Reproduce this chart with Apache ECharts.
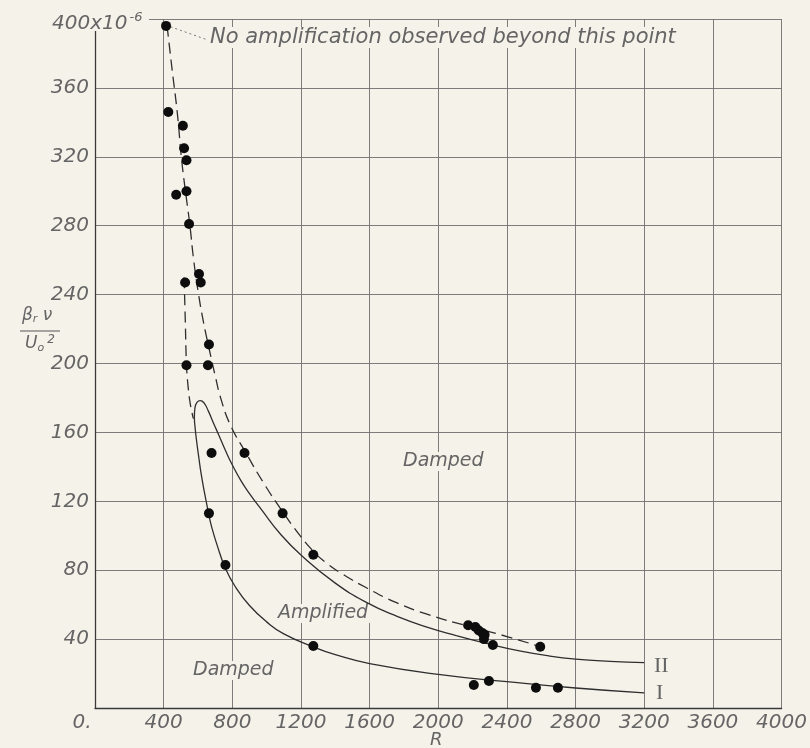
<!DOCTYPE html>
<html>
<head>
<meta charset="utf-8">
<script src="https://cdn.jsdelivr.net/npm/echarts@6/dist/echarts.min.js"></script>
<style>
html,body{margin:0;padding:0;background:#f5f2ea;}
#c{width:810px;height:748px;}
</style>
</head>
<body>
<div id="c"></div>
<script>
// ---- data ----
var xTicks = [0,400,800,1200,1600,2000,2400,2800,3200,3600,4000];
var yTicks = [0,40,80,120,160,200,240,280,320,360,400];

var observedPoints = [
  [414,396],[427,346],[512,338],[519,325],[533,318],[533,300],[473,298],
  [548,281],[606,252],[616,247],[525,247],[664,211],[533,199],[658,199],
  [679,148],[871,148],[664,113],[1093,113],[760,83],[1272,89],[1272,36],
  [2174,48],[2216,47],[2236,45],[2257,43.5],[2270,42.5],[2266,40],[2318,36.6],[2594,35.6],
  [2207,13.4],[2295,15.7],[2569,11.8],[2697,11.8]
];

// neutral curve: branch I (lower) from right end, around the nose, branch II (upper) to right end
var neutralCurve = [
  [3200,8.8],[2800,11.6],[2400,15.3],[2000,19.5],[1600,25.8],[1400,31],[1272,35.5],
  [1100,43],[1000,50],[900,59.5],[820,70],[760,81],[710,95],[680,105],[664,112],
  [640,124],[620,135],[604,146],[592,155],[583,163],[579,169],[582,174],[594,177.5],
  [614,178.5],[636,177],[660,172.5],[690,165.5],[721,158.5],[760,149.5],[798,141.5],[850,132],
  [900,124.5],[971,115],[1080,101],[1203,88.5],[1400,72.5],[1587,61],[1760,53.2],[1934,47],
  [2100,42.2],[2318,36.6],[2480,33],[2645,30.2],[2800,28.4],[3000,27.1],[3200,26.3]
];

// dashed upper boundary
var dashedUpper = [
  [420,396],[450,370],[480,345],[505,318],[535,294],[552,281],[575,260],[602,241],
  [632,224],[664,209],[700,193],[735,179],[790,164],[877,148.5],[980,131],[1093,114],
  [1180,102],[1272,91],[1350,84],[1430,78.5],[1587,69.5],[1760,61],[1934,54.5],[2174,47.5],
  [2400,41.5],[2594,35.6]
];
// dashed left branch
var dashedLeft = [[519,250],[526,225],[533,199],[543,186],[556,176],[573,168]];
// dotted leader to note
var leaderLine = [[440,395.5],[652,388]];

var bg = '#f5f2ea';
var txt = '#656565';
var font = 'DejaVu Sans';

var chart = echarts.init(document.getElementById('c'), null, {renderer:'canvas'});
chart.setOption({
  backgroundColor: bg,
  animation: false,
  grid: {left:95, right:22, top:19, bottom:40, containLabel:false},
  xAxis: {
    type:'value', min:xTicks[0], max:xTicks[xTicks.length-1], interval:400,
    axisLine:{show:true, lineStyle:{color:'#3a3a3a', width:1.3}},
    axisTick:{show:false},
    splitLine:{show:true, lineStyle:{color:'#6e6e6e', width:0.9}},
    axisLabel:{
      color:txt, fontFamily:font, fontStyle:'italic', fontSize:20, margin:5,
      formatter:function(v){ return v===0 ? '{z|0.}' : String(v); },
      rich:{z:{color:txt, fontFamily:font, fontStyle:'italic', fontSize:20, padding:[0,26,0,0]}}
    }
  },
  yAxis: {
    type:'value', min:yTicks[0], max:yTicks[yTicks.length-1], interval:40,
    axisLine:{show:true, lineStyle:{color:'#3a3a3a', width:1.3}},
    axisTick:{show:false},
    splitLine:{show:true, lineStyle:{color:'#6e6e6e', width:0.9}},
    axisLabel:{
      color:txt, fontFamily:font, fontStyle:'italic', fontSize:20, margin:6,
      formatter:function(v){ return (v===0||v===400) ? '' : String(v); }
    }
  },
  series: [
    {type:'line', data:neutralCurve, smooth:0.5, showSymbol:false, z:3,
     lineStyle:{color:'#2e2e2e', width:1.3}},
    {type:'line', data:dashedUpper, smooth:0.5, showSymbol:false, z:3,
     lineStyle:{color:'#2e2e2e', width:1.3, type:[11,6]}},
    {type:'line', data:dashedLeft, smooth:0.4, showSymbol:false, z:3,
     lineStyle:{color:'#2e2e2e', width:1.3, type:[11,6]}},
    {type:'line', data:leaderLine, showSymbol:false, z:3,
     lineStyle:{color:'#777', width:1, type:[2,3]}},
    {type:'scatter', data:observedPoints, symbol:'circle', symbolSize:10, z:4,
     itemStyle:{color:'#0d0d0d', opacity:1}}
  ],
  graphic: [
    {type:'rect', z:1, shape:{x:44, y:6, width:105, height:25}, style:{fill:bg}},
    {type:'text', z:2, left:52, top:11, style:{
      text:'{a|400x10}{s|-6}', rich:{
        a:{fontFamily:font, fontStyle:'italic', fontSize:20, fill:txt},
        s:{fontFamily:font, fontStyle:'italic', fontSize:13, fill:txt, padding:[0,0,12,2]}
      }}},
    {type:'text', z:1, left:208, top:27, style:{
      text:'No amplification observed beyond this point', fontFamily:font, fontStyle:'italic',
      fontSize:21, fill:txt, backgroundColor:bg, padding:[0,2]}},
    {type:'text', z:1, left:401, top:452, style:{
      text:'Damped', fontFamily:font, fontStyle:'italic', fontSize:19, fill:txt, backgroundColor:bg, padding:[0,2]}},
    {type:'text', z:1, left:191, top:661, style:{
      text:'Damped', fontFamily:font, fontStyle:'italic', fontSize:19, fill:txt, backgroundColor:bg, padding:[0,2]}},
    {type:'text', z:1, left:276, top:604, style:{
      text:'Amplified', fontFamily:font, fontStyle:'italic', fontSize:19, fill:txt, backgroundColor:bg, padding:[0,2]}},
    {type:'text', z:1, left:654, top:655, style:{
      text:'II', fontFamily:'Liberation Serif', fontSize:22, fill:txt}},
    {type:'text', z:1, left:656, top:682, style:{
      text:'I', fontFamily:'Liberation Serif', fontSize:22, fill:txt}},
    {type:'text', z:1, left:430, top:731, style:{
      text:'R', fontFamily:font, fontStyle:'italic', fontSize:18, fill:txt}},
    {type:'text', z:1, left:22, top:307, style:{
      text:'{a|β}{s|r}{a| ν}', rich:{
        a:{fontFamily:font, fontStyle:'italic', fontSize:17, fill:txt},
        s:{fontFamily:font, fontStyle:'italic', fontSize:11, fill:txt, padding:[8,0,0,0]}
      }}},
    {type:'line', z:1, shape:{x1:20, y1:331, x2:60, y2:331}, style:{stroke:'#555', lineWidth:1}},
    {type:'text', z:1, left:25, top:334, style:{
      text:'{a|U}{s|o}{p|2}', rich:{
        a:{fontFamily:font, fontStyle:'italic', fontSize:17, fill:txt},
        s:{fontFamily:font, fontStyle:'italic', fontSize:11, fill:txt, padding:[8,0,0,0]},
        p:{fontFamily:font, fontStyle:'italic', fontSize:12, fill:txt, padding:[0,0,8,3]}
      }}}
  ]
});
</script>
</body>
</html>
